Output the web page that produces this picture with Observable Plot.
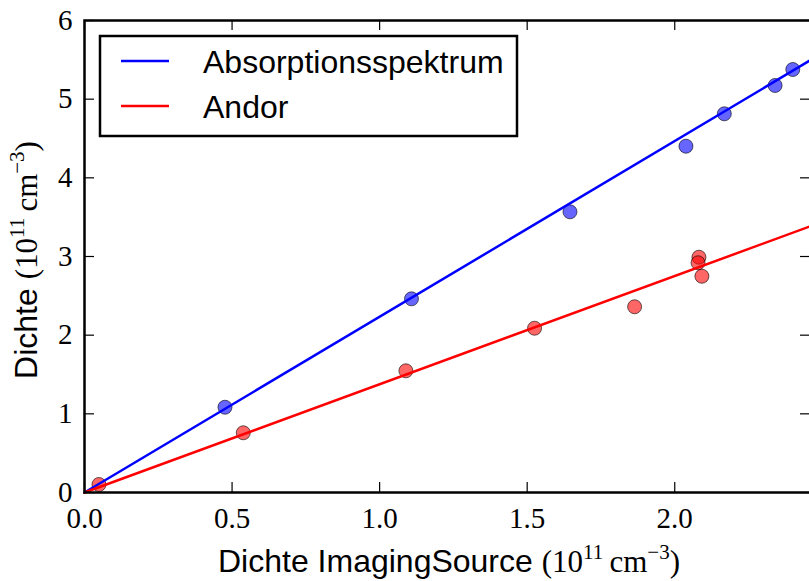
<!DOCTYPE html>
<html>
<head>
<meta charset="utf-8">
<script src="https://cdn.jsdelivr.net/npm/d3@7"></script>
<script src="https://cdn.jsdelivr.net/npm/@observablehq/plot@0.6"></script>
<style>
  html, body { margin: 0; padding: 0; background: #fff; overflow: hidden; }
</style>
</head>
<body>
<div id="chart"></div>
<script>
// ---- data ----
const xTicks = [0.0, 0.5, 1.0, 1.5, 2.0];
const yTicks = [0, 1, 2, 3, 4, 5, 6];

const absX = [0.476, 1.108, 1.645, 2.038, 2.168, 2.340, 2.400];
const absY = [1.084, 2.462, 3.568, 4.402, 4.814, 5.174, 5.377];

const andorX = [0.049, 0.538, 1.089, 1.525, 1.864, 2.082, 2.079, 2.092];
const andorY = [0.102, 0.759, 1.547, 2.088, 2.361, 2.991, 2.920, 2.749];

const seriesNames = ["Absorptionsspektrum", "Andor"];
const seriesColors = ["blue", "red"];
const fitSlopes = [2.234, 1.376];   // fitted lines through the origin
const xDomain = [0, 2.46];
const yDomain = [0, 6];

// ---- build tables ----
const absPts = absX.map((x, i) => ({x, y: absY[i]}));
const andorPts = andorX.map((x, i) => ({x, y: andorY[i]}));
const fitLine = s => xDomain.map(x => ({x, y: s * x}));

const W = 811, H = 581, mL = 84, mR = 1, mT = 20, mB = 89;
const plotW = W - mL - mR, plotH = H - mT - mB;
const serif = "'Liberation Serif', 'DejaVu Serif', serif";
const sans = "'Liberation Sans', Arial, sans-serif";
const tickFont = 29;
const mathFont = 31;

const chart = Plot.plot({
  width: W, height: H,
  marginLeft: mL, marginRight: mR, marginTop: mT, marginBottom: mB,
  style: {maxWidth: "none", background: "white", overflow: "hidden"},
  x: {domain: xDomain, axis: null},
  y: {domain: yDomain, axis: null},
  marks: [
    Plot.dot(absPts, {x: "x", y: "y", r: 7, fill: seriesColors[0], fillOpacity: 0.6, stroke: "black", strokeOpacity: 0.6, strokeWidth: 1}),
    Plot.dot(andorPts, {x: "x", y: "y", r: 7, fill: seriesColors[1], fillOpacity: 0.6, stroke: "black", strokeOpacity: 0.6, strokeWidth: 1}),
    Plot.line(fitLine(fitSlopes[0]), {x: "x", y: "y", stroke: seriesColors[0], strokeWidth: 2.5}),
    Plot.line(fitLine(fitSlopes[1]), {x: "x", y: "y", stroke: seriesColors[1], strokeWidth: 2.5}),
    // inward ticks on all four sides
    Plot.tickX(xTicks, {x: d => d, insetTop: plotH - 10, stroke: "black", strokeWidth: 1.2}),
    Plot.tickX(xTicks, {x: d => d, insetBottom: plotH - 10, stroke: "black", strokeWidth: 1.2}),
    Plot.tickY(yTicks, {y: d => d, insetRight: plotW - 10, stroke: "black", strokeWidth: 1.2}),
    Plot.tickY(yTicks, {y: d => d, insetLeft: plotW - 10, stroke: "black", strokeWidth: 1.2}),
    Plot.frame({stroke: "black", strokeWidth: 2.5}),
    // tick labels
    Plot.text(xTicks, {x: d => d, frameAnchor: "bottom", lineAnchor: "bottom", dy: 35,
      text: d => d.toFixed(1), fontFamily: serif, fontSize: tickFont, fill: "black"}),
    Plot.text(yTicks, {y: d => d, frameAnchor: "left", textAnchor: "end", dx: -12,
      text: d => String(d), fontFamily: serif, fontSize: tickFont, fill: "black"})
  ]
});
document.getElementById("chart").appendChild(chart);

// ---- titles and legend ----
const svg = d3.select(chart);

function unitLabel(sel, lead) {
  sel.append("tspan").attr("font-family", sans).attr("font-size", 32).text(lead);
  sel.append("tspan").attr("font-family", serif).attr("font-size", mathFont).text("(10");
  sel.append("tspan").attr("font-family", serif).attr("font-size", 21).attr("dy", -13).text("11");
  sel.append("tspan").attr("font-family", serif).attr("font-size", mathFont).attr("dy", 13).text("\u2009cm");
  sel.append("tspan").attr("font-family", serif).attr("font-size", 21).attr("dy", -13).text("\u22123");
  sel.append("tspan").attr("font-family", serif).attr("font-size", mathFont).attr("dy", 13).text(")");
}

const xt = svg.append("text")
  .attr("x", mL + plotW / 2 + 2).attr("y", 572)
  .attr("text-anchor", "middle").attr("fill", "black");
unitLabel(xt, "Dichte ImagingSource ");

const yt = svg.append("text")
  .attr("transform", `translate(37,${mT + plotH / 2 + 4}) rotate(-90)`)
  .attr("text-anchor", "middle").attr("fill", "black");
unitLabel(yt, "Dichte ");

const lg = svg.append("g");
lg.append("rect").attr("x", 100).attr("y", 36).attr("width", 417).attr("height", 100)
  .attr("fill", "white").attr("stroke", "black").attr("stroke-width", 2.5);
seriesNames.forEach((name, i) => {
  const cy = 61 + i * 45;
  lg.append("line").attr("x1", 121).attr("x2", 169).attr("y1", cy).attr("y2", cy)
    .attr("stroke", seriesColors[i]).attr("stroke-width", 2.5);
  lg.append("text").attr("x", 203).attr("y", cy + 11.5).attr("text-anchor", "start")
    .attr("font-family", sans).attr("font-size", 32).attr("fill", "black").text(name);
});
</script>
</body>
</html>
